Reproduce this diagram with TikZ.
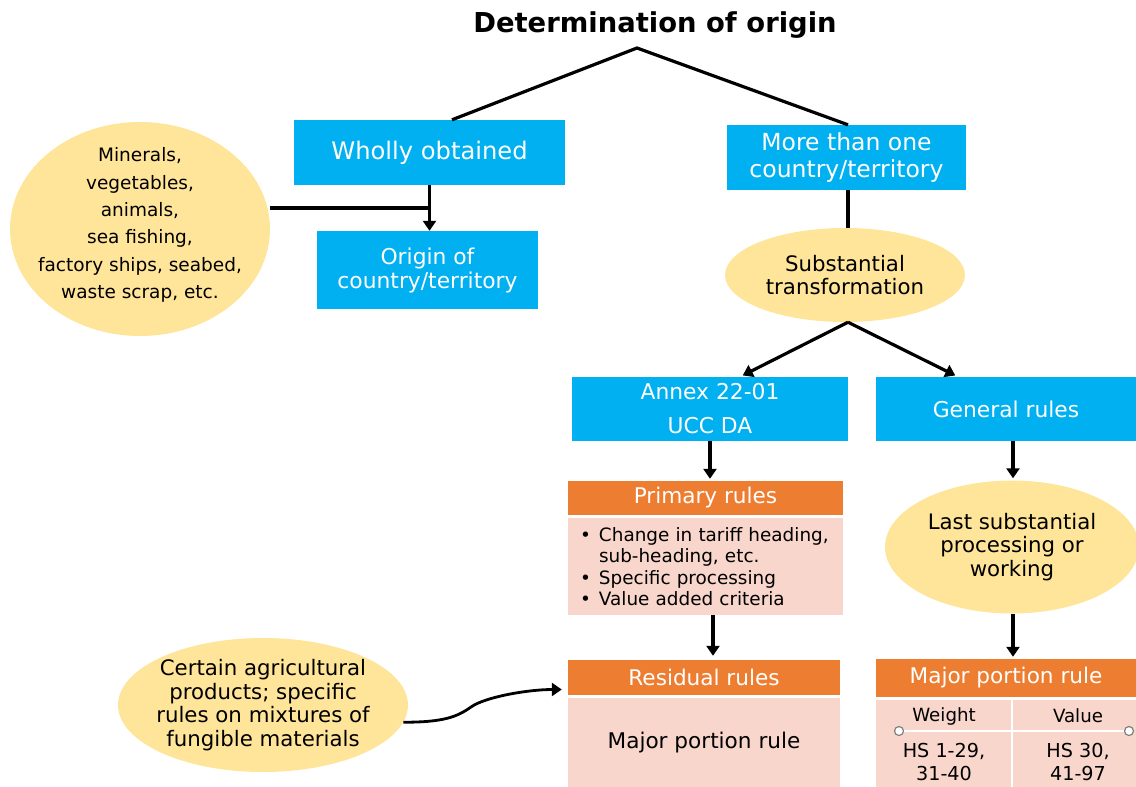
\documentclass[tikz,border=0pt]{standalone}
\usepackage{fontspec}
\setmainfont{DejaVu Sans}
\usetikzlibrary{arrows.meta,positioning,shapes.geometric}
\definecolor{boxblue}{RGB}{0,176,240}
\definecolor{ruleorange}{RGB}{237,125,49}
\definecolor{rulepink}{RGB}{248,214,203}
\definecolor{notegold}{RGB}{255,229,153}

\begin{document}
\begin{tikzpicture}[
    x=1pt, y=-1pt,
    every node/.style={align=center, inner sep=0pt},
    bluebox/.style={rectangle, fill=boxblue, text=white, font=\fontsize{21.8}{24}\selectfont},
    headbox/.style={rectangle, fill=ruleorange, text=white, font=\fontsize{21.6}{24}\selectfont},
    bodybox/.style={rectangle, fill=rulepink},
    noteoval/.style={ellipse, fill=notegold, inner sep=-20pt, font=\fontsize{21.3}{23.5}\selectfont},
    celltext/.style={font=\fontsize{19.2}{23}\selectfont},
    arr/.style={-{Triangle[length=10pt,width=13pt]}, line width=3.2pt},
    link/.style={line width=3.2pt}
]
\useasboundingbox (0,0) rectangle (1136,787);

% title and the two ways
\node[font=\bfseries\fontsize{27.4}{30}\selectfont] (title) at (655,25) {Determination of origin};
\coordinate (apex) at (637,48);

\node[bluebox, minimum width=271pt, minimum height=65pt, font=\fontsize{24.2}{26}\selectfont] (wholly) at (429.5,152.5) {Wholly obtained};
\node[bluebox, minimum width=221pt, minimum height=78pt] (origin) at (427.5,270) {Origin of\\country/territory};
\node[noteoval, minimum width=260pt, minimum height=214pt, font=\fontsize{18.5}{27.4}\selectfont] (minerals) at (140,229)
  {\smash{\begin{tabular}{@{}c@{}}Minerals,\\vegetables,\\animals,\\sea fishing,\\factory ships, seabed,\\waste scrap, etc.\end{tabular}}};

\node[bluebox, minimum width=239pt, minimum height=65pt, font=\fontsize{23.5}{27}\selectfont] (morethan) at (846.5,157.5) {More than one\\country/territory};
\node[noteoval, minimum width=240pt, minimum height=94pt] (substantial) at (845,275) {Substantial\\transformation};

% annex branch
\node[bluebox, minimum width=276pt, minimum height=64pt, font=\fontsize{21.8}{34}\selectfont] (annex) at (710,409) {Annex 22-01\\UCC DA};
\node[headbox, minimum width=275pt, minimum height=34pt] (primaryhead) at (705.5,498) {Primary rules};
\node[bodybox, minimum width=275pt, minimum height=97pt, text width=251pt, align=left, font=\fontsize{18.4}{21.5}\selectfont] (primarybody) at (705.5,566.5)
  {\makebox[19pt][l]{\textbullet}Change in tariff heading,\\\hspace*{19pt}sub-heading, etc.\\\makebox[19pt][l]{\textbullet}Specific processing\\\makebox[19pt][l]{\textbullet}Value added criteria};
\node[headbox, minimum width=272pt, minimum height=35pt] (residualhead) at (704,677.5) {Residual rules};
\node[bodybox, minimum width=272pt, minimum height=89pt, font=\fontsize{21.6}{24}\selectfont] (residualbody) at (704,742.5) {Major portion rule};
\node[noteoval, minimum width=290pt, minimum height=134pt] (certain) at (263,705) {Certain agricultural\\products; specific\\rules on mixtures of\\fungible materials};

% general branch
\node[bluebox, minimum width=260pt, minimum height=64pt] (general) at (1006,409) {General rules};
\node[noteoval, minimum width=254pt, minimum height=133pt] (lastwork) at (1012,547) {Last substantial\\processing or\\working};
\node[headbox, minimum width=260pt, minimum height=38pt] (majorhead) at (1006,678) {Major portion rule};
\node[bodybox, minimum width=260pt, minimum height=87pt] (majorbody) at (1006,743.5) {};

% table inside the major portion rule
\draw[white, line width=2pt] ([xshift=6pt]majorbody.north) -- ([xshift=6pt]majorbody.south);
\node[circle, draw=gray, fill=white, line width=1.2pt, minimum size=9pt] (dotl) at (899,731) {};
\node[circle, draw=gray, fill=white, line width=1.2pt, minimum size=9pt] (dotr) at (1129,731) {};
\draw[white, line width=2pt] (dotl) -- (dotr);
\node[celltext, font=\fontsize{18.2}{20}\selectfont] (weight) at (944,716) {Weight};
\node[celltext, font=\fontsize{18.2}{20}\selectfont] (value) at (1078,716) {Value};
\node[celltext] (weighths) at (944,762) {HS 1-29,\\31-40};
\node[celltext] (valuehs) at (1078,762) {HS 30,\\41-97};

% connectors
\draw[link] ([xshift=22.5pt]wholly.north) -- (apex) -- ([xshift=1.5pt]morethan.north);
\coordinate (join) at (wholly.south |- 0,208);
\draw[link] (join -| minerals.east) -- (join);
\draw[arr] (wholly.south) -- (wholly.south |- origin.north);
\draw[link] ([xshift=1.5pt]morethan.south) -- ([xshift=1.5pt]morethan.south |- substantial.north);
\draw[arr, shorten >=3pt] ([xshift=3pt]substantial.south) -- ([xshift=30pt]annex.north);
\draw[arr, shorten >=3pt] ([xshift=3pt]substantial.south) -- ([xshift=-48pt]general.north);
\draw[arr, shorten >=2pt] (annex.south) -- (annex.south |- primaryhead.north);
\draw[arr, shorten >=4pt] ([xshift=7.5pt]primaryhead.south |- primarybody.south) -- ([xshift=7.5pt]primaryhead.south |- residualhead.north);
\draw[arr, shorten >=2pt] ([xshift=7pt]general.south) -- ([xshift=7pt]general.south |- lastwork.north);
\draw[arr, shorten >=2pt] ([xshift=7pt]majorhead.north |- lastwork.south) -- ([xshift=7pt]majorhead.north);
\draw[arr, line width=2.8pt, shorten >=6pt] (certain.-7) .. controls +(40,0) and +(-14,10) .. (471,707)
  .. controls +(14,-10) and +(-40,0) .. ([yshift=-12pt]residualhead.west);

\end{tikzpicture}
\end{document}
